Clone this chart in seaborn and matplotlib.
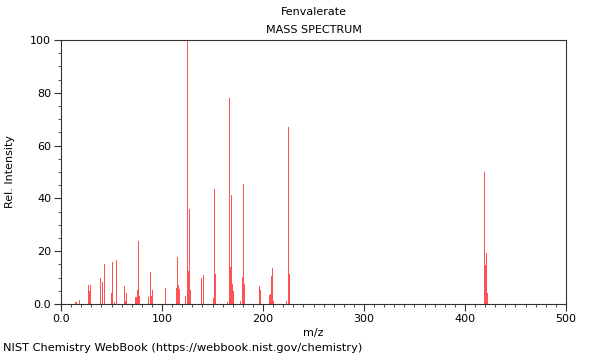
import numpy as np
import pandas as pd
import matplotlib
matplotlib.use("Agg")
import matplotlib.pyplot as plt
import seaborn as sns
from matplotlib.ticker import MultipleLocator, FixedLocator, FixedFormatter

# peaks
mz = [14, 15, 18, 27, 28, 29, 39, 41, 43, 50, 51, 53, 55, 63, 64, 65,
      74, 75, 76, 77, 78, 87, 89, 90, 91, 103, 114, 115, 116, 117,
      123, 125, 126, 127, 128, 139, 141, 151, 152, 153, 165,
      167, 168, 169, 170, 171, 178, 180, 181, 182, 197, 198,
      206, 207, 208, 209, 210, 223, 225, 226, 419, 420, 421, 422]
intensity = [0.7, 0.9, 1.4, 7.3, 5.0, 7.3, 9.7, 8.2, 15.0, 4.3, 16.0, 0.9, 16.7, 6.8, 1.0, 4.0,
             2.6, 2.6, 5.3, 23.9, 3.0, 2.8, 12.0, 3.0, 5.3, 6.0, 6.1, 17.8, 7.1, 5.8,
             3.0, 100.0, 12.5, 36.0, 5.3, 9.7, 11.0, 2.2, 43.4, 11.4, 0.9,
             78.1, 14.0, 41.1, 7.4, 5.0, 1.0, 10.4, 45.4, 7.4, 7.0, 5.3,
             3.4, 3.6, 10.6, 13.5, 1.0, 1.0, 67.0, 11.2, 49.9, 14.8, 19.2, 4.0]

x_ticks = [0, 100, 200, 300, 400, 500]
x_tick_labels = ["0.0", "100", "200", "300", "400", "500"]
y_ticks = [0, 20, 40, 60, 80, 100]
y_tick_labels = ["0.0", "20", "40", "60", "80", "100"]

df = pd.DataFrame({"mz": mz, "intensity": intensity})

sns.set_style("ticks")
plt.rcParams["font.family"] = ["DejaVu Sans"]
plt.rcParams["font.size"] = 8
plt.rcParams["text.color"] = "black"
plt.rcParams["axes.labelcolor"] = "black"
plt.rcParams["xtick.labelcolor"] = "black"
plt.rcParams["ytick.labelcolor"] = "black"

fig = plt.figure(figsize=(6, 3.6), dpi=100)
ax = fig.add_axes([0.1017, 0.1556, 0.8416, 0.7333])

sns.histplot(data=df, x="mz", weights="intensity", discrete=True,
             color="#ff2828", alpha=0.8, linewidth=0, ax=ax)

ax.set_xlim(0, 500)
ax.set_ylim(0, 100)
ax.xaxis.set_major_locator(FixedLocator(x_ticks))
ax.xaxis.set_major_formatter(FixedFormatter(x_tick_labels))
ax.xaxis.set_minor_locator(MultipleLocator(10))
ax.yaxis.set_major_locator(FixedLocator(y_ticks))
ax.yaxis.set_major_formatter(FixedFormatter(y_tick_labels))
ax.yaxis.set_minor_locator(MultipleLocator(5))
ax.tick_params(which="major", length=5, width=0.8, color="#333333", labelsize=8, pad=2)
ax.tick_params(which="minor", length=2.5, width=0.6, color="#333333")

for s in ax.spines.values():
    s.set_visible(True)
    s.set_color("#333333")
    s.set_linewidth(0.8)

ax.set_xlabel("m/z", fontsize=8, labelpad=3)
ax.set_ylabel("Rel. Intensity", fontsize=8, labelpad=11)
ax.text(0.5, 1.106, "Fenvalerate", transform=ax.transAxes,
        ha="center", va="center", fontsize=8)
ax.text(0.5, 1.038, "MASS SPECTRUM", transform=ax.transAxes,
        ha="center", va="center", fontsize=8)

fig.text(0.005, 0.02, "NIST Chemistry WebBook (https://webbook.nist.gov/chemistry)",
         fontsize=8.2, ha="left", va="bottom")

fig.savefig("out.png", dpi=100, facecolor="white")
